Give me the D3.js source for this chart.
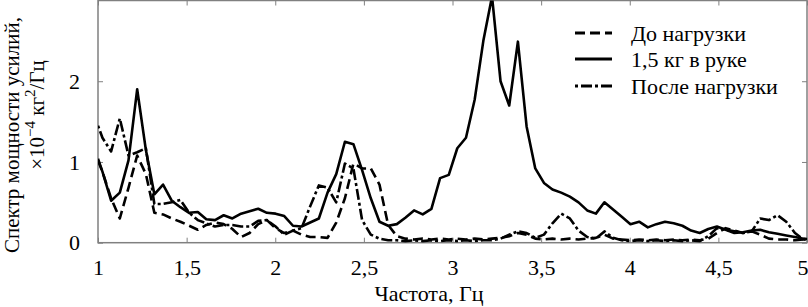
<!DOCTYPE html>
<html><head><meta charset="utf-8">
<script src="https://cdn.jsdelivr.net/npm/d3@7"></script>
<style>
body{margin:0;background:#fff}
svg{display:block}
text{font-family:"Liberation Serif","Times New Roman",serif;fill:#000}
</style>
</head><body><svg id="c" width="808" height="307"></svg>
<script>
const freqs=[
1.000,1.025,1.074,1.123,1.172,1.221,1.270,1.318,1.367,1.416,
1.465,1.514,1.563,1.611,1.660,1.709,1.758,1.807,1.855,1.904,
1.953,2.002,2.051,2.100,2.148,2.197,2.246,2.295,2.344,2.393,
2.441,2.490,2.539,2.588,2.637,2.686,2.734,2.783,2.832,2.881,
2.930,2.979,3.027,3.076,3.125,3.174,3.223,3.271,3.320,3.369,
3.418,3.467,3.516,3.564,3.613,3.662,3.711,3.760,3.809,3.857,
3.906,3.955,4.004,4.053,4.102,4.150,4.199,4.248,4.297,4.346,
4.395,4.443,4.492,4.541,4.590,4.639,4.688,4.736,4.785,4.834,
4.883,4.932,4.980,5.029];
const before=[
1.02,0.88,0.55,0.30,0.68,1.08,0.85,0.37,0.35,0.30,
0.26,0.21,0.16,0.22,0.25,0.23,0.17,0.07,0.12,0.23,
0.28,0.18,0.12,0.15,0.10,0.07,0.07,0.06,0.25,0.55,
0.98,0.92,0.92,0.72,0.22,0.08,0.05,0.04,0.05,0.04,
0.05,0.04,0.05,0.04,0.05,0.04,0.05,0.06,0.08,0.12,
0.10,0.05,0.04,0.05,0.04,0.05,0.04,0.05,0.06,0.10,
0.05,0.04,0.03,0.04,0.03,0.04,0.03,0.04,0.03,0.04,
0.03,0.05,0.12,0.18,0.15,0.12,0.14,0.10,0.05,0.04,
0.04,0.03,0.04,0.03];
const loaded=[
1.04,0.88,0.52,0.62,1.02,1.90,1.15,0.60,0.72,0.52,
0.44,0.37,0.38,0.29,0.28,0.34,0.30,0.36,0.39,0.42,
0.37,0.36,0.33,0.21,0.20,0.25,0.30,0.62,0.85,1.25,
1.22,0.90,0.55,0.26,0.21,0.23,0.31,0.40,0.35,0.42,
0.80,0.84,1.17,1.30,1.77,2.50,3.05,2.00,1.70,2.49,
1.44,0.92,0.74,0.66,0.62,0.57,0.50,0.40,0.36,0.50,
0.41,0.32,0.23,0.26,0.19,0.23,0.26,0.24,0.21,0.15,
0.12,0.17,0.20,0.16,0.12,0.13,0.15,0.16,0.13,0.11,
0.09,0.07,0.05,0.04];
const after=[
1.45,1.30,1.13,1.54,1.08,1.12,1.17,0.48,0.48,0.50,
0.53,0.37,0.28,0.24,0.20,0.22,0.22,0.20,0.20,0.27,
0.28,0.20,0.10,0.15,0.18,0.45,0.71,0.68,0.50,0.98,
0.92,0.28,0.10,0.05,0.03,0.03,0.02,0.03,0.02,0.03,
0.02,0.03,0.02,0.03,0.02,0.03,0.03,0.05,0.10,0.14,
0.12,0.06,0.10,0.24,0.36,0.30,0.15,0.07,0.05,0.14,
0.06,0.03,0.02,0.03,0.02,0.03,0.02,0.03,0.02,0.03,
0.02,0.08,0.18,0.16,0.14,0.12,0.14,0.30,0.28,0.34,
0.26,0.12,0.04,0.03];
const seriesNames=["До нагрузки","1,5 кг в руке","После нагрузки"];
const xTicks=[1,1.5,2,2.5,3,3.5,4,4.5,5];
const yTicks=[0,1,2];
const xTitle="Частота, Гц";

const svg=d3.select("#c");
const L=98,R=807,T=0.5,B=242.7;
const x=d3.scaleLinear().domain([1,5]).range([L,R]);
const y=d3.scaleLinear().domain([0,3]).range([B,T]);
const fmt=d=>String(d).replace(".",",");
const frameCol="#808080";

svg.append("defs").append("clipPath").attr("id","clip")
  .append("rect").attr("x",L).attr("y",T).attr("width",R-L).attr("height",B-T);

// axes with inward ticks
const gb=svg.append("g").attr("transform",`translate(0,${B})`)
  .call(d3.axisBottom(x).tickValues(xTicks).tickSize(-5).tickPadding(17).tickFormat(fmt));
const gt=svg.append("g").attr("transform",`translate(0,${T})`)
  .call(d3.axisTop(x).tickValues(xTicks).tickSize(-5).tickFormat(""));
const gl=svg.append("g").attr("transform",`translate(${L},0)`)
  .call(d3.axisLeft(y).tickValues(yTicks).tickSize(-5).tickPadding(18).tickFormat(fmt));
const gr=svg.append("g").attr("transform",`translate(${R},0)`)
  .call(d3.axisRight(y).tickValues(yTicks).tickSize(-5).tickFormat(""));
[gb,gt,gl,gr].forEach(g=>{
  g.select(".domain").remove();
  g.selectAll(".tick line").attr("stroke",frameCol).attr("stroke-width",1);
  g.selectAll("text").style("font-family",'"Liberation Serif",serif').style("font-size","22px").attr("fill","#000");
});
gb.selectAll("text").attr("dy","0.71em");
gb.selectAll(".tick").filter(d=>d===5).select("text").attr("text-anchor","end").attr("x",1);
svg.append("rect").attr("x",L).attr("y",T).attr("width",R-L).attr("height",B-T)
  .attr("fill","none").attr("stroke",frameCol).attr("stroke-width",1.5);

const styles=[
  {data:before,dash:"10,5"},
  {data:loaded,dash:null},
  {data:after,dash:"3,3,11,3"}
];
const line=d3.line().x(d=>x(d[0])).y(d=>y(d[1]));
const plot=svg.append("g").attr("clip-path","url(#clip)");
styles.forEach(s=>{
  plot.append("path").datum(freqs.map((f,i)=>[f,s.data[i]]))
    .attr("d",line).attr("fill","none").attr("stroke","#000")
    .attr("stroke-width",2.6).attr("stroke-linejoin","round")
    .attr("stroke-dasharray",s.dash);
});

// legend
const lg=svg.append("g");
const ly=[33,59,86];
styles.forEach((s,i)=>{
  lg.append("line").attr("x1",575).attr("x2",612).attr("y1",ly[i]).attr("y2",ly[i])
    .attr("stroke","#000").attr("stroke-width",2.8).attr("stroke-dasharray",s.dash);
  lg.append("text").attr("x",631).attr("y",ly[i]+8).style("font-size","22px").text(seriesNames[i]);
});

// titles
svg.append("text").attr("x",429).attr("y",301).attr("text-anchor","middle").style("font-size","22px").text(xTitle);
svg.append("text").attr("transform","translate(19,135) rotate(-90)").attr("text-anchor","middle")
  .style("font-size","21px").text("Спектр мощности усилий,");
const t2=svg.append("text").attr("transform","translate(44,115) rotate(-90)").attr("text-anchor","middle").style("font-size","21px");
t2.append("tspan").text("×10");
t2.append("tspan").attr("dy",-9).style("font-size","15px").text("−4");
t2.append("tspan").attr("dy",9).text(" кг");
t2.append("tspan").attr("dy",-9).style("font-size","15px").text("2");
t2.append("tspan").attr("dy",9).text("/Гц");
</script>
</body></html>
